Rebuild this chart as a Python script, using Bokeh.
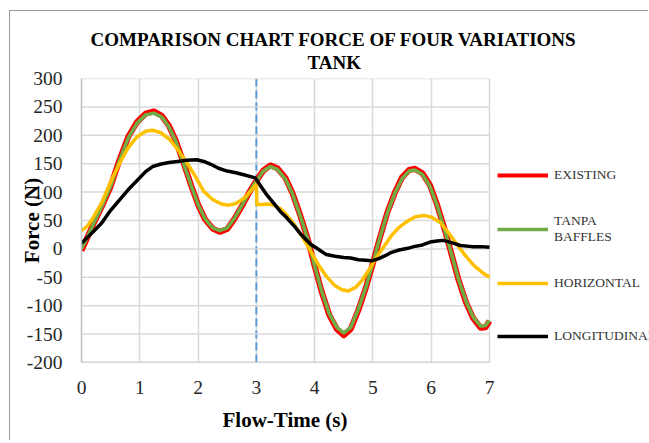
from bokeh.plotting import figure
from bokeh.models import Range1d, FixedTicker, Span, Legend, LegendItem, Title
from bokeh.embed import file_html
from bokeh.resources import INLINE

# ---------------- data ----------------
t_existing = [0.0, 0.1, 0.2, 0.35, 0.5, 0.65, 0.8, 0.95, 1.1, 1.24, 1.38, 1.5, 1.62, 1.75,
              1.88, 2.0, 2.12, 2.25, 2.37, 2.5, 2.62, 2.75, 2.88, 3.0, 3.12, 3.24, 3.36,
              3.5, 3.62, 3.75, 3.88, 4.0, 4.12, 4.25, 4.38, 4.5, 4.62, 4.75, 4.88, 5.0,
              5.12, 5.25, 5.38, 5.5, 5.62, 5.72, 5.85, 5.98, 6.1, 6.22, 6.35, 6.47, 6.6,
              6.72, 6.85, 6.93, 7.0]
f_existing = [-3, 20, 43, 75, 110, 156, 197, 223, 238, 242, 234, 217, 190, 152,
              112, 78, 52, 36, 30, 35, 52, 75, 100, 120, 138, 147, 142,
              125, 98, 60, 18, -30, -75, -116, -141, -152, -141, -108, -68, -25,
              20, 65, 100, 126, 139, 141, 133, 112, 78, 38, -10, -55, -95,
              -122, -139, -138, -127]

t_tanpa = t_existing
f_tanpa = [0, 21, 43, 75, 110, 155, 195, 221, 236, 239, 232, 215, 189, 151,
           112, 78, 53, 37, 32, 37, 53, 76, 100, 120, 137, 145, 140,
           123, 97, 59, 18, -30, -74, -114, -138, -148, -138, -106, -67, -25,
           20, 64, 99, 124, 137, 139, 131, 110, 77, 37, -10, -54, -93,
           -120, -136, -135, -126]

t_horizontal = [0.0, 0.1, 0.2, 0.35, 0.5, 0.65, 0.8, 0.95, 1.1, 1.22, 1.35, 1.5, 1.65, 1.8,
                1.95, 2.1, 2.25, 2.4, 2.53, 2.65, 2.8, 2.92, 3.0, 3.01, 3.1, 3.2, 3.3,
                3.41, 3.5, 3.65, 3.78, 3.92, 4.07, 4.2, 4.35, 4.47, 4.58, 4.7, 4.81,
                4.92, 5.04, 5.18, 5.33, 5.45, 5.58, 5.72, 5.87, 6.0, 6.15, 6.3, 6.44,
                6.58, 6.73, 6.87, 7.0]
f_horizontal = [32, 40, 55, 82, 118, 150, 178, 197, 207, 209, 205, 194, 175, 153,
                128, 101, 87, 79, 77, 80, 90, 104, 114, 78, 78, 79, 77,
                71, 62, 43, 23, -2, -29, -48, -65, -72, -74, -68, -56,
                -39, -18, 3, 25, 38, 48, 56, 59, 56, 47, 28, 8,
                -11, -29, -41, -50]

t_longitudinal = [0.0, 0.1, 0.2, 0.35, 0.5, 0.65, 0.8, 0.95, 1.1, 1.22, 1.35, 1.5, 1.65, 1.8,
                  1.98, 2.1, 2.22, 2.35, 2.5, 2.65, 2.8, 2.98, 3.08, 3.18, 3.3, 3.41, 3.5,
                  3.65, 3.78, 3.92, 4.07, 4.2, 4.35, 4.5, 4.62, 4.75, 4.88, 4.98, 5.1,
                  5.21, 5.32, 5.45, 5.6, 5.7, 5.85, 5.98, 6.1, 6.21, 6.35, 6.5, 6.7,
                  6.85, 7.0]
f_longitudinal = [10, 20, 30, 46, 68, 86, 104, 120, 136, 145, 149, 152, 154, 156,
                  157, 154, 149, 142, 137, 134, 130, 125, 110, 95, 80, 66, 57,
                  40, 24, 9, -1, -10, -13, -15, -16, -19, -20, -21, -17,
                  -12, -6, -2, 1, 4, 7, 12, 14, 15, 11, 6, 4,
                  4, 3]

x_ticks = [0, 1, 2, 3, 4, 5, 6, 7]
y_ticks = [-200, -150, -100, -50, 0, 50, 100, 150, 200, 250, 300]
marker_time = 3

title_line1 = "COMPARISON CHART FORCE OF FOUR VARIATIONS"
title_line2 = "TANK"
x_label = "Flow-Time (s)"
y_label = "Force (N)"
series_names = ["EXISTING", "TANPA\nBAFFLES", "HORIZONTAL", "LONGITUDINAL"]

# ---------------- layout numbers ----------------
SERIF = "Liberation Serif"
OX, OY = 10, 11                      # canvas origin inside the chart-area border
W, H = 649 - OX, 441 - OY
PLOT_L, PLOT_R, PLOT_T, PLOT_B = 81 - OX, 489 - OX, 78 - OY, 362 - OY
x_min, x_max = x_ticks[0], x_ticks[-1]
# the frame continues to the right edge so the legend can live inside it
x_end = x_min + (x_max - x_min) * (W - PLOT_L) / (PLOT_R - PLOT_L)

p = figure(width=W, height=H, output_backend="svg", toolbar_location=None,
           x_range=Range1d(x_min, x_end), y_range=Range1d(y_ticks[0], y_ticks[-1]),
           min_border_left=PLOT_L, min_border_right=0, min_border_top=PLOT_T,
           min_border_bottom=H - PLOT_B, background_fill_color="white",
           border_fill_color="white", outline_line_color=None,
           styles={"margin-left": "9px", "margin-top": "10px",
                   "border-left": "1px solid #9a9a9a", "border-top": "1px solid #9a9a9a"})

t2 = Title(text=title_line2, align="left", offset=226, standoff=11,
           text_font=SERIF, text_font_size="19px", text_font_style="bold",
           text_color="#000000")
t1 = Title(text=title_line1, align="left", offset=9, standoff=-11,
           text_font=SERIF, text_font_size="19px", text_font_style="bold",
           text_color="#000000")
p.add_layout(t2, "above")
p.add_layout(t1, "above")

# x-axis title, centred under the 0..7 plotting area
tx = Title(text=x_label, align="left", offset=141, standoff=18,
           text_font=SERIF, text_font_size="21px", text_font_style="bold",
           text_color="#000000")
p.add_layout(tx, "below")

# axes
for ax in (p.xaxis, p.yaxis):
    ax.major_tick_line_color = None
    ax.minor_tick_line_color = None
    ax.major_label_text_font = SERIF
    ax.major_label_text_font_size = "19.5px"
    ax.major_label_text_color = "#262626"
    ax.axis_label_text_font = SERIF
    ax.axis_label_text_font_size = "21px"
    ax.axis_label_text_font_style = "bold"
    ax.axis_label_text_color = "#000000"

p.xaxis.axis_line_color = None
p.yaxis.axis_line_color = "#bfbfbf"
p.yaxis.axis_line_width = 1.5
p.xaxis.ticker = FixedTicker(ticks=x_ticks)
p.yaxis.ticker = FixedTicker(ticks=y_ticks)
p.yaxis.major_label_overrides = {v: str(v) for v in y_ticks}
p.yaxis.axis_label = y_label
p.xaxis.major_label_standoff = 12
p.yaxis.major_label_standoff = 13
p.yaxis.axis_label_standoff = -20

# grid: vertical lines from the ticker, horizontal lines only across 0..7
p.xgrid.ticker = FixedTicker(ticks=x_ticks)
p.xgrid.grid_line_color = "#d9d9d9"
p.xgrid.grid_line_width = 1.5
p.ygrid.grid_line_color = None
p.segment(x0=[x_min] * len(y_ticks), y0=y_ticks, x1=[x_max] * len(y_ticks), y1=y_ticks,
          line_color="#d9d9d9", line_width=1.5)
p.segment(x0=[x_min], y0=[y_ticks[0]], x1=[x_max], y1=[y_ticks[0]],
          line_color="#bfbfbf", line_width=1.5)

# dashed vertical marker
p.add_layout(Span(location=marker_time, dimension="height", line_color="#5B9BD5",
                  line_width=2, line_dash="8 4", level="underlay"))

# series
r_ex = p.line(t_existing, f_existing, line_color="#FF0000", line_width=6, line_join="round")
r_tp = p.line(t_tanpa, f_tanpa, line_color="#70AD47", line_width=3.5, line_join="round")
r_ho = p.line(t_horizontal, f_horizontal, line_color="#FFC000", line_width=3.5, line_join="round")
r_lo = p.line(t_longitudinal, f_longitudinal, line_color="#000000", line_width=3.5, line_join="round")

# legend swatch for EXISTING drawn at the normal legend line weight
r_ex_key = p.line(t_existing, f_existing, line_color="#FF0000", line_width=4, visible=False)

legend = Legend(items=[LegendItem(label=series_names[0], renderers=[r_ex_key]),
                       LegendItem(label=series_names[1], renderers=[r_tp]),
                       LegendItem(label=series_names[2], renderers=[r_ho]),
                       LegendItem(label=series_names[3], renderers=[r_lo])],
                location=(497 - 81, 11), orientation="vertical",
                glyph_width=51, glyph_height=30, label_height=30,
                label_standoff=6, spacing=23, padding=0, margin=0,
                border_line_color=None, background_fill_alpha=0,
                inactive_fill_alpha=0,
                label_text_font=SERIF, label_text_font_size="13.5px",
                label_text_line_height=0.95,
                label_text_color="#333333")
p.add_layout(legend, "center")

open("out.html", "w").write(file_html(p, INLINE))
